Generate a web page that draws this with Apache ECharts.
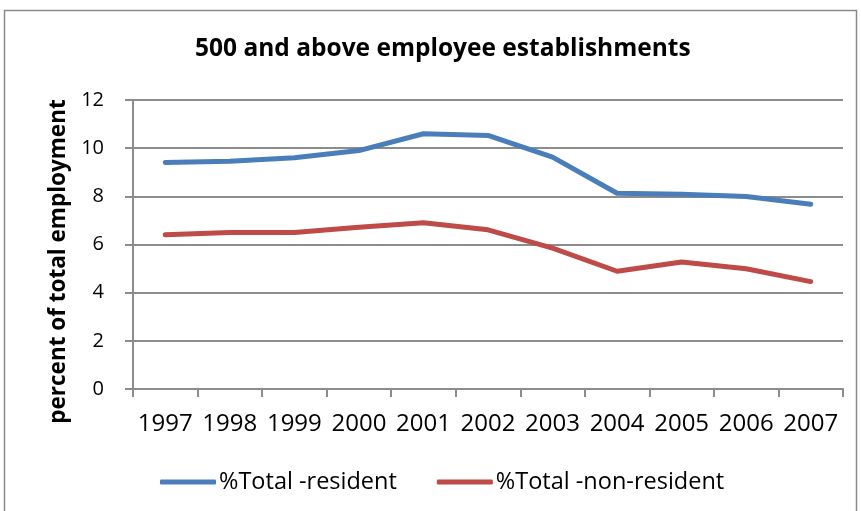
<!DOCTYPE html>
<html>
<head>
<meta charset="utf-8">
<script src="https://cdn.jsdelivr.net/npm/echarts@6/dist/echarts.min.js"></script>
<style>
  html, body { margin: 0; padding: 0; background: #ffffff; }
  #chart { width: 861px; height: 511px; }
</style>
</head>
<body>
<div id="chart"></div>
<script>
// Years on the category axis
var years = ['1997', '1998', '1999', '2000', '2001', '2002', '2003', '2004', '2005', '2006', '2007'];
// Share of total employment in establishments with 500+ employees
var residentPct = [9.41, 9.46, 9.6, 9.9, 10.6, 10.53, 9.63, 8.13, 8.09, 7.99, 7.67];
var nonResidentPct = [6.40, 6.50, 6.50, 6.72, 6.90, 6.61, 5.85, 4.89, 5.27, 4.99, 4.46];
var yTicks = [0, 2, 4, 6, 8, 10, 12];

var FONT = '"Open Sans", "Liberation Sans", sans-serif';
var GRID_GRAY = '#8c8c8c';

var chart = echarts.init(document.getElementById('chart'), null, { renderer: 'canvas' });

chart.setOption({
  backgroundColor: '#ffffff',
  animation: false,
  graphic: [{
    type: 'rect',
    shape: { x: 4.5, y: 10.5, width: 852, height: 530 },
    style: { fill: 'none', stroke: '#8a8a8a', lineWidth: 1.5 },
    silent: true
  }],
  title: {
    text: '500 and above employee establishments',
    left: 190,
    top: 32,
    textStyle: { fontFamily: FONT, fontWeight: 'bold', fontSize: 24.5, color: '#000000' }
  },
  legend: {
    left: 155,
    top: 465,
    itemWidth: 56,
    itemHeight: 5,
    itemGap: 40,
    icon: 'roundRect',
    textStyle: { fontFamily: FONT, fontSize: 23.5, color: '#000000', padding: [0, 0, 0, -2] },
    data: ['%Total -resident', '%Total -non-resident']
  },
  grid: { left: 133, right: 18, top: 100, bottom: 122, containLabel: false },
  xAxis: {
    type: 'category',
    data: years,
    boundaryGap: true,
    axisLine: { lineStyle: { color: GRID_GRAY, width: 2 } },
    axisTick: { show: true, length: 8, lineStyle: { color: GRID_GRAY, width: 2 } },
    axisLabel: { fontFamily: FONT, fontSize: 24, color: '#000000', margin: 23, interval: 0 }
  },
  yAxis: {
    type: 'value',
    min: yTicks[0],
    max: yTicks[yTicks.length - 1],
    interval: 2,
    name: 'percent of total employment',
    nameLocation: 'middle',
    nameRotate: 90,
    nameGap: 58,
    nameTextStyle: {
      fontFamily: FONT, fontWeight: 'bold', fontSize: 22.5, color: '#000000',
      padding: [0, 34, 0, 0]
    },
    axisLine: { show: true, lineStyle: { color: GRID_GRAY, width: 2 } },
    axisTick: { show: true, length: 8, lineStyle: { color: GRID_GRAY, width: 2 } },
    axisLabel: { fontFamily: FONT, fontSize: 20, color: '#000000', margin: 29 },
    splitLine: { show: true, lineStyle: { color: GRID_GRAY, width: 2 } }
  },
  series: [
    {
      name: '%Total -resident',
      type: 'line',
      data: residentPct,
      symbol: 'none',
      color: '#4a7ebb',
      lineStyle: { color: '#4a7ebb', width: 5, cap: 'round', join: 'round' }
    },
    {
      name: '%Total -non-resident',
      type: 'line',
      data: nonResidentPct,
      symbol: 'none',
      color: '#be4b48',
      lineStyle: { color: '#be4b48', width: 5, cap: 'round', join: 'round' }
    }
  ]
});
</script>
</body>
</html>
